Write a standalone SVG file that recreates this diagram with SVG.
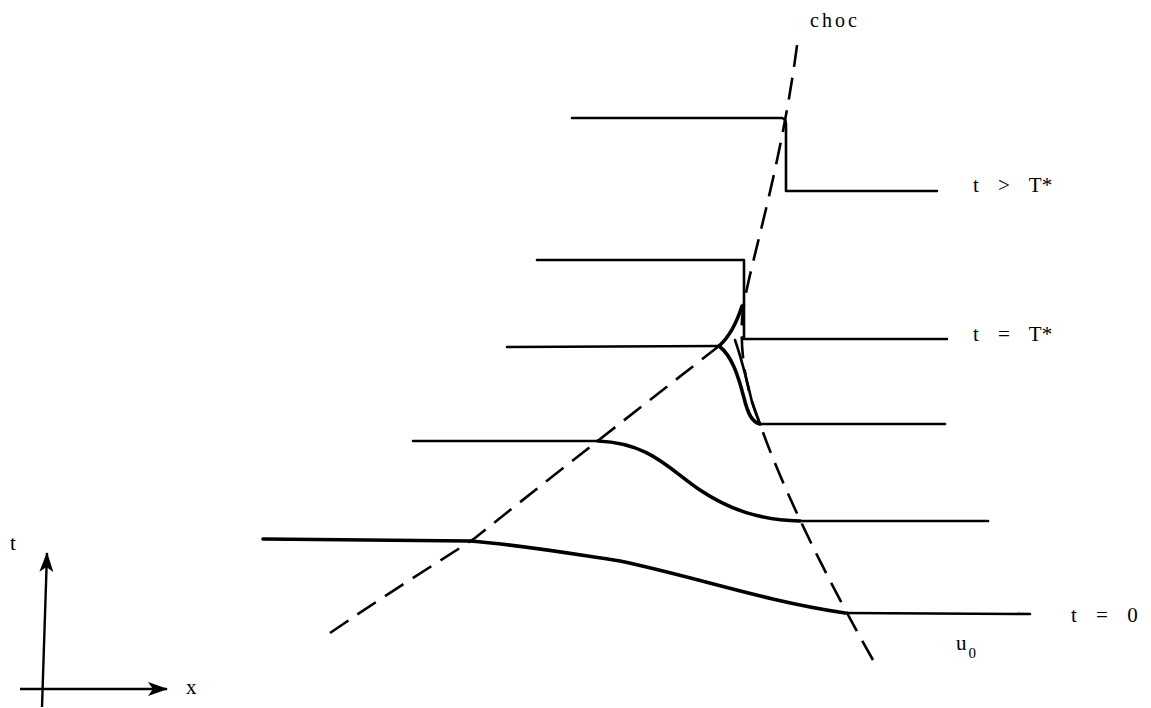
<svg xmlns="http://www.w3.org/2000/svg" width="1151" height="708" viewBox="0 0 1151 708">
<style>
.prof{fill:none;stroke:#000;stroke-width:2.6;stroke-linecap:round;stroke-linejoin:round}
.curve{fill:none;stroke:#000;stroke-width:3.6;stroke-linecap:round;stroke-linejoin:round}
.dash{fill:none;stroke:#000;stroke-width:2.6;stroke-dasharray:22 11;stroke-linecap:butt}
.ax{fill:none;stroke:#000;stroke-width:2.4}
.lbl{font-family:"Liberation Serif","Times New Roman",serif;font-size:21px;fill:#000}
.eq{word-spacing:14px}
</style>
<defs>
<marker id="ah" viewBox="0 0 20 14" refX="19" refY="7" markerWidth="20" markerHeight="14" markerUnits="userSpaceOnUse" orient="auto">
<path d="M0,0 L20,7 L0,14 L5,7 Z" fill="#000"/>
</marker>
</defs>
<rect width="1151" height="708" fill="#fff"/>
<g id="axes">
<path class="ax" d="M42,707 L47,553" marker-end="url(#ah)"/>
<path class="ax" d="M20,689 L167,689" marker-end="url(#ah)"/>
<text class="lbl" x="10" y="550">t</text>
<text class="lbl" x="186" y="694">x</text>
</g>
<g id="connectors">
<path id="left-char" class="dash" d="M330,633 C400,585 450,555 475,538 C560,470 650,400 719,346"/>
<path id="shock" class="dash" d="M873,660 C850,620 790,510 760,424 C748,395 740,360 742,320 C744,280 780,180 798,38"/>
</g>
<g id="profile-t0">
<path class="curve" d="M263,539 L470,541 C520,545 560,552 620,561 C700,578 760,600 845,613"/>
<path class="prof" d="M845,613 L1030,614"/>
</g>
<g id="profile-2">
<path class="prof" d="M413,441 L598,441"/>
<path class="curve" d="M598,441 C650,443 670,470 700,490 C730,510 760,520 800,521"/>
<path class="prof" d="M800,521 L988,521"/>
</g>
<g id="profile-Tstar">
<path class="prof" d="M507,347 L719,346"/>
<path class="curve" d="M719,346 C732,356 738,375 744,398 C748,414 752,422 760,424"/>
<path class="curve" d="M719,346 C728,338 736,325 742,306"/>
<path class="prof" d="M735,340 C742,360 748,385 752,402 L760,424"/>
<path class="prof" d="M760,424 L945,424"/>
</g>
<g id="profile-3">
<path class="prof" d="M537,260 L744,260 L744,339 L947,339"/>
</g>
<g id="profile-top">
<path class="prof" d="M572,118 L782,118 Q786,119 786,124 L786,191 L937,191"/>
</g>
<g id="labels">
<text class="lbl" x="810" y="27" style="letter-spacing:3px;font-size:20px">choc</text>
<text class="lbl eq" x="973" y="192">t &gt; T*</text>
<text class="lbl eq" x="973" y="341">t = T*</text>
<text class="lbl eq" x="1071" y="622">t = 0</text>
<text class="lbl" x="956" y="650">u<tspan font-size="15" dy="8" dx="2">0</tspan></text>
</g>
</svg>
